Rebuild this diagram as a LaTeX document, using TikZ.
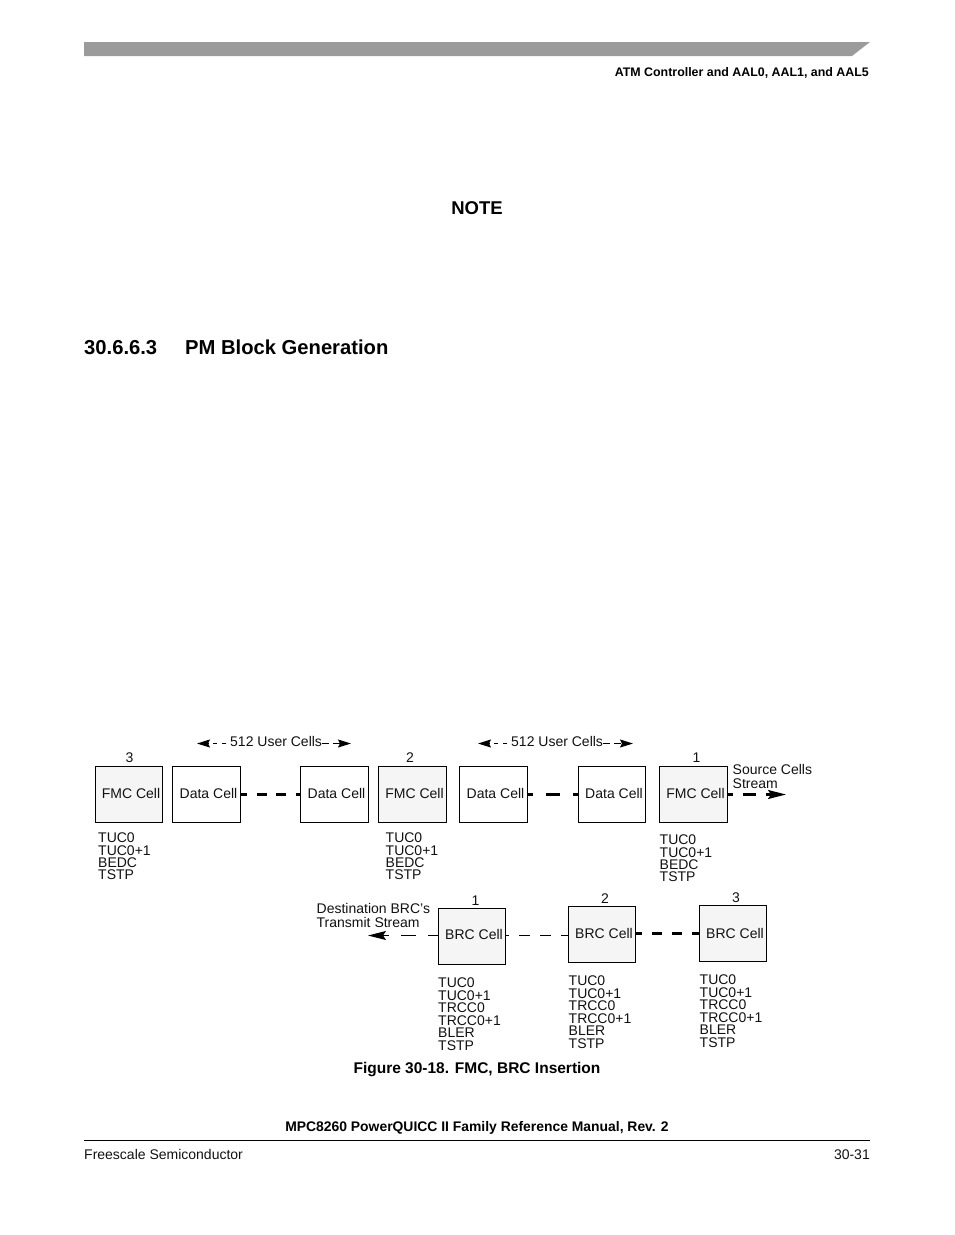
\documentclass[tikz,border=0pt]{standalone}
\usepackage{fontspec}
\setmainfont{Liberation Sans}
\usetikzlibrary{arrows.meta}
\definecolor{band}{HTML}{9B9B9B}
\definecolor{cellfill}{HTML}{F5F5F5}
\definecolor{ink}{HTML}{111111}
\tikzset{
  x=1pt,y=-1pt,
  cell/.style={draw=black,line width=1.2pt,inner sep=0pt,minimum width=68pt,minimum height=56pt,
    font=\fontsize{14}{14}\selectfont,text=ink},
  datacell/.style={cell},
  markcell/.style={cell,fill=cellfill},
  numlabel/.style={inner sep=0pt,anchor=base,font=\fontsize{14}{14}\selectfont,text=ink},
  plain/.style={inner sep=0pt,anchor=base west,font=\fontsize{14}{14}\selectfont,text=ink},
  reglist/.style={inner sep=0pt,anchor=north west,align=left,font=\fontsize{14}{12.3}\selectfont,text=ink},
  reglistb/.style={reglist,font=\fontsize{14}{12.6}\selectfont},
  stacked/.style={inner sep=0pt,anchor=north west,align=left,font=\fontsize{14}{14}\selectfont,text=ink},
  bold/.style={inner sep=0pt,anchor=base west,font=\bfseries\fontsize{12.4}{14}\selectfont,text=black},
  heavy/.style={line width=2.1pt,draw=black},
  light/.style={line width=1.1pt,draw=black},
  head/.style={-{Stealth[length=18pt,width=9pt,inset=3pt]}},
  smallhead/.style={-{Stealth[length=13pt,width=8pt,inset=2pt]}},
}
\newcommand{\ctext}[2][1.5pt]{\hspace*{4pt}\raisebox{#1}{#2}}
\begin{document}
\begin{tikzpicture}
\useasboundingbox (0,0) rectangle (954,1235);
% page furniture
\fill[band] (84,42) -- (870,42) -- (852,56) -- (84,56) -- cycle;
\node[bold,anchor=base east] (hdr) at (869,76) {ATM Controller and AAL0, AAL1, and AAL5};
\node[bold,font=\bfseries\fontsize{18.5}{20}\selectfont,anchor=base] (note) at (477,214) {NOTE};
\node[bold,font=\bfseries\fontsize{20.2}{22}\selectfont] (secn) at (84,354) {30.6.6.3};
\node[bold,font=\bfseries\fontsize{20.2}{22}\selectfont] (sect) at (185,354) {PM Block Generation};
\node[bold,font=\bfseries\fontsize{15.5}{16}\selectfont,anchor=base] (cap) at (477,1073) {Figure 30-18. FMC, BRC Insertion};
\node[bold,font=\bfseries\fontsize{13.9}{15}\selectfont,anchor=base] (man) at (477,1131) {MPC8260 PowerQUICC II Family Reference Manual, Rev. 2};
\draw[line width=1pt,draw=black] (84,1140.5) -- (870,1140.5);
\node[plain] (fs) at (84,1159) {Freescale Semiconductor};
\node[plain,anchor=base east] (pg) at (870,1159) {30-31};
% top row
\node[markcell,minimum width=67pt] (f3) at (129,794.5) {\ctext{FMC Cell}};
\node[datacell] (d1) at (206.5,794.5) {\ctext{Data Cell}};
\node[datacell] (d2) at (334.5,794.5) {\ctext{Data Cell}};
\node[markcell] (f2) at (412.5,794.5) {\ctext{FMC Cell}};
\node[datacell] (d3) at (493.5,794.5) {\ctext{Data Cell}};
\node[datacell,minimum width=67pt] (d4) at (612,794.5) {\ctext{Data Cell}};
\node[markcell] (f1) at (693.5,794.5) {\ctext{FMC Cell}};
\node[numlabel] (n3) at (129.5,762) {3};
\node[numlabel] (n2) at (410,762) {2};
\node[numlabel] (n1) at (696.5,762) {1};
\draw[heavy,dash pattern=on 10pt off 9.5pt,dash phase=4pt] (d1.east) -- (d2.west);
\draw[heavy,dash pattern=on 14pt off 13pt,dash phase=9pt] (d3.east) -- (d4.west);
\coordinate (srcend) at (786,794.5);
\draw[heavy,head,dash pattern=on 13pt off 10pt,dash phase=8pt] (f1.east) -- (srcend);
\node[stacked] (src) at (732.5,764) {Source Cells\\[0pt]Stream};
% 512 user cells
\node[plain] (u1) at (230,746) {512 User Cells};
\node[plain] (u2) at (511,746) {512 User Cells};
\coordinate (u1l) at (197,743.5);\coordinate (u1r) at (351,743.5);
\coordinate (u2l) at (478,743.5);\coordinate (u2r) at (633,743.5);
\draw[light,smallhead,dash pattern=on 4.5pt off 4.5pt] (u1.west |- u1l) ++(-4,0) coordinate (a1) -- (u1l);
\draw[light,smallhead,dash pattern=on 7pt off 3.5pt] (u1.east |- u1r) coordinate (b1) -- (u1r);
\draw[light,smallhead,dash pattern=on 4.5pt off 4.5pt] (u2.west |- u2l) ++(-4,0) coordinate (a2) -- (u2l);
\draw[light,smallhead,dash pattern=on 7pt off 3.5pt] (u2.east |- u2r) coordinate (b2) -- (u2r);
% register lists top
\node[reglist] (l3) at (98,833) {TUC0\\TUC0+1\\BEDC\\TSTP};
\node[reglist] (l2) at (385.5,833) {TUC0\\TUC0+1\\BEDC\\TSTP};
\node[reglist] (l1) at (659.5,835) {TUC0\\TUC0+1\\BEDC\\TSTP};
% bottom row
\node[markcell,minimum width=67pt] (b1c) at (472,936.5) {\ctext[4.5pt]{BRC Cell}};
\node[markcell,minimum width=67pt] (b2c) at (602,934.5) {\ctext[2pt]{BRC Cell}};
\node[markcell,minimum width=67pt] (b3c) at (733,933.5) {\ctext[.5pt]{BRC Cell}};
\node[numlabel] (m1) at (475.5,905) {1};
\node[numlabel] (m2) at (605,903) {2};
\node[numlabel] (m3) at (736,902) {3};
\coordinate (dstend) at (368,935.5);
\draw[light,head,dash pattern=on 15pt off 12pt,dash phase=5pt] (b1c.west |- dstend) -- (dstend);
\draw[light,dash pattern=on 11pt off 10pt,dash phase=8pt] (b1c.east |- 0,935.5) -- (b2c.west |- 0,935.5);
\draw[heavy,dash pattern=on 10pt off 10pt,dash phase=4pt] (b2c.east |- 0,933.5) -- (b3c.west);
\node[stacked] (dst) at (316.5,903.5) {Destination BRC’s\\[0pt]Transmit Stream};
\node[reglistb] (r1) at (438,977.5) {TUC0\\TUC0+1\\TRCC0\\TRCC0+1\\BLER\\TSTP};
\node[reglistb] (r2) at (568.5,975.5) {TUC0\\TUC0+1\\TRCC0\\TRCC0+1\\BLER\\TSTP};
\node[reglistb] (r3) at (699.5,974.5) {TUC0\\TUC0+1\\TRCC0\\TRCC0+1\\BLER\\TSTP};
\end{tikzpicture}
\end{document}
